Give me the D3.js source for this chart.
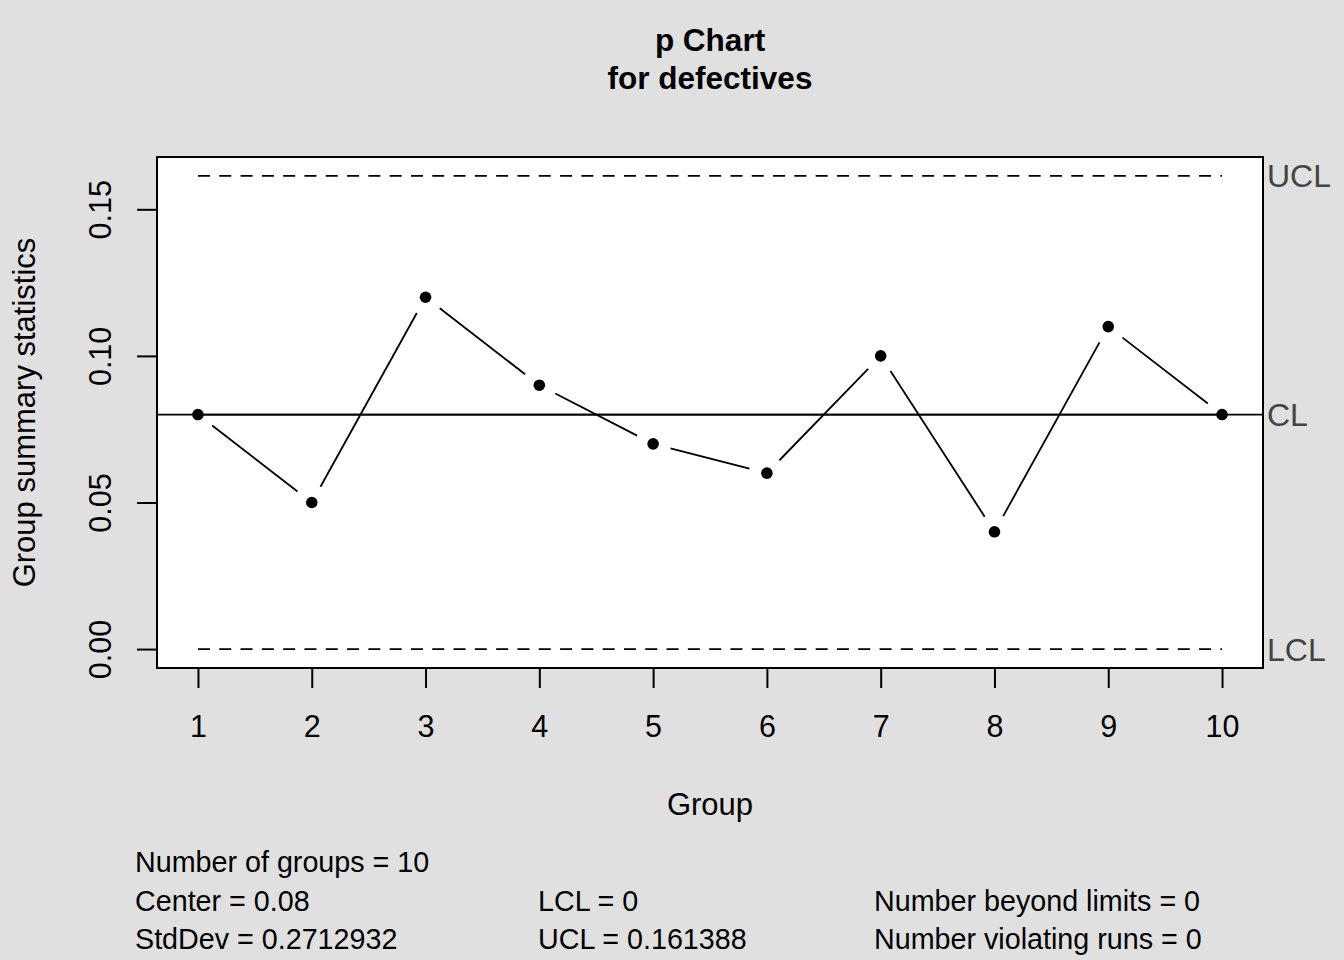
<!DOCTYPE html>
<html>
<head>
<meta charset="utf-8">
<script src="https://cdn.jsdelivr.net/npm/d3@7"></script>
<style>
  html, body { margin: 0; padding: 0; background: #e0e0e0; }
  svg { display: block; font-family: "Liberation Sans", Arial, Helvetica, sans-serif; }
</style>
</head>
<body>
<svg id="chart" width="1344" height="960"></svg>
<script>
// p chart for defectives (qcc style)
const groups = [1, 2, 3, 4, 5, 6, 7, 8, 9, 10];
const proportions = [0.08, 0.05, 0.12, 0.09, 0.07, 0.06, 0.10, 0.04, 0.11, 0.08];
const yTicks = [0.00, 0.05, 0.10, 0.15];
const limits = [
  { name: "UCL", value: 0.161388, dashed: true },
  { name: "CL", value: 0.08, dashed: false },
  { name: "LCL", value: 0, dashed: true },
];
const statsLines = [
  ["Number of groups = 10", "", ""],
  ["Center = 0.08", "LCL = 0", "Number beyond limits = 0"],
  ["StdDev = 0.2712932", "UCL = 0.161388", "Number violating runs = 0"],
];

const box = { left: 157, right: 1263, top: 157, bottom: 668 };
const svg = d3.select("#chart");

// R-style 4% range extension
const yPad = (0.161388 - 0) * 0.04;
const x = d3.scaleLinear().domain([1 - 0.36, 10 + 0.36]).range([box.left, box.right]);
const y = d3.scaleLinear().domain([0 - yPad, 0.161388 + yPad]).range([box.bottom, box.top]);

svg.append("rect").attr("width", 1344).attr("height", 960).attr("fill", "#e0e0e0");
svg.append("rect")
  .attr("x", box.left).attr("y", box.top)
  .attr("width", box.right - box.left).attr("height", box.bottom - box.top)
  .attr("fill", "#fff");

// control limits
svg.append("g").selectAll("line").data(limits).join("line")
  .attr("x1", x(1)).attr("x2", x(10))
  .attr("y1", d => y(d.value)).attr("y2", d => y(d.value))
  .attr("stroke", "#000").attr("stroke-width", 1.8)
  .attr("stroke-dasharray", d => d.dashed ? "12,9.3" : null);
// CL runs across the whole box
svg.append("line")
  .attr("x1", box.left).attr("x2", box.right)
  .attr("y1", y(0.08)).attr("y2", y(0.08))
  .attr("stroke", "#000").attr("stroke-width", 1.8);

svg.append("g").selectAll("text").data(limits).join("text")
  .attr("x", box.right + 4).attr("y", d => y(d.value))
  .attr("dy", "0.36em")
  .attr("font-size", 32).attr("fill", "#444")
  .text(d => d.name);

// connecting segments with gaps around points (type = "b")
const pts = groups.map((g, i) => [x(g), y(proportions[i])]);
const gap = 18;
const segs = d3.pairs(pts).map(([a, b]) => {
  const dx = b[0] - a[0], dy = b[1] - a[1];
  const len = Math.hypot(dx, dy);
  const ux = dx / len, uy = dy / len;
  return [a[0] + ux * gap, a[1] + uy * gap, b[0] - ux * gap, b[1] - uy * gap];
});
svg.append("g").selectAll("line").data(segs).join("line")
  .attr("x1", d => d[0]).attr("y1", d => d[1])
  .attr("x2", d => d[2]).attr("y2", d => d[3])
  .attr("stroke", "#000").attr("stroke-width", 1.8);

svg.append("g").selectAll("circle").data(pts).join("circle")
  .attr("cx", d => d[0]).attr("cy", d => d[1]).attr("r", 5.8)
  .attr("fill", "#000");

svg.append("rect")
  .attr("x", box.left).attr("y", box.top)
  .attr("width", box.right - box.left).attr("height", box.bottom - box.top)
  .attr("fill", "none").attr("stroke", "#000").attr("stroke-width", 2);

// axes
const xAxis = d3.axisBottom(x).tickValues(groups).tickSize(20).tickPadding(27).tickFormat(d3.format("d"));
const gx = svg.append("g").attr("transform", `translate(0,${box.bottom})`).call(xAxis);
gx.select(".domain").remove();
gx.selectAll(".tick line").attr("stroke-width", 2);
gx.selectAll(".tick text").attr("font-size", 30.5).attr("fill", "#000").attr("font-family", null);

const yAxis = d3.axisLeft(y).tickValues(yTicks).tickSize(20).tickFormat(d3.format(".2f"));
const gy = svg.append("g").attr("transform", `translate(${box.left},0)`).call(yAxis);
gy.select(".domain").remove();
gy.selectAll(".tick line").attr("stroke-width", 2);
gy.selectAll(".tick text")
  .attr("font-size", 30.5).attr("fill", "#000").attr("font-family", null)
  .attr("x", null).attr("dy", null)
  .attr("text-anchor", "middle")
  .attr("transform", "translate(-46,0) rotate(-90)");

// titles
svg.append("text").attr("x", 710).attr("y", 51).attr("text-anchor", "middle")
  .attr("font-size", 31.5).attr("font-weight", "bold").text("p Chart");
svg.append("text").attr("x", 710).attr("y", 89).attr("text-anchor", "middle")
  .attr("font-size", 31.5).attr("font-weight", "bold").text("for defectives");
svg.append("text").attr("x", 710).attr("y", 815).attr("text-anchor", "middle")
  .attr("font-size", 31).text("Group");
svg.append("text").attr("transform", `translate(35,${(box.top + box.bottom) / 2}) rotate(-90)`)
  .attr("text-anchor", "middle").attr("font-size", 31).text("Group summary statistics");

// summary statistics
const colX = [135, 538, 874];
const rowY = [872, 911, 949];
statsLines.forEach((row, r) => {
  row.forEach((t, c) => {
    if (!t) return;
    svg.append("text").attr("x", colX[c]).attr("y", rowY[r])
      .attr("font-size", 28.7).text(t);
  });
});
</script>
</body>
</html>
